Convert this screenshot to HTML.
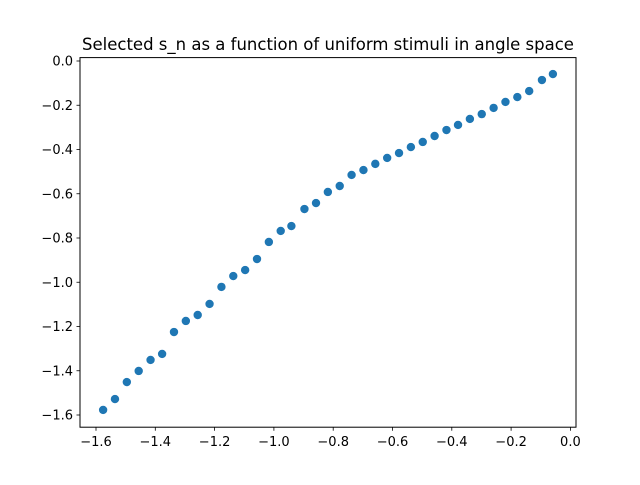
<!DOCTYPE html>
<html><head><meta charset="utf-8"><style>
body{margin:0;background:#fff}
svg text{font-family:"DejaVu Sans","Liberation Sans",sans-serif;fill:#000}
</style></head><body>
<svg id="chart" width="640" height="480" viewBox="0 0 640 480" xmlns="http://www.w3.org/2000/svg">
<rect width="640" height="480" fill="#fff"/>
<text x="328" y="50" font-size="16.5" text-anchor="middle">Selected s_n as a function of uniform stimuli in angle space</text>
<g id="ticks"></g>
<g id="points"></g>
<rect x="80" y="57.6" width="496" height="369.6" fill="none" stroke="#000" stroke-width="1"/>
</svg>
<script>
const xValues=[-1.576,-1.536,-1.496,-1.456,-1.416,-1.377,-1.337,-1.297,-1.257,-1.217,-1.177,-1.137,-1.097,-1.057,-1.017,-0.977,-0.941,-0.897,-0.858,-0.818,-0.778,-0.738,-0.698,-0.658,-0.618,-0.578,-0.538,-0.498,-0.458,-0.418,-0.379,-0.339,-0.299,-0.259,-0.219,-0.179,-0.139,-0.096,-0.059];
const yValues=[-1.577,-1.528,-1.451,-1.401,-1.351,-1.324,-1.225,-1.175,-1.148,-1.098,-1.021,-0.972,-0.945,-0.895,-0.818,-0.768,-0.746,-0.669,-0.642,-0.592,-0.565,-0.515,-0.493,-0.465,-0.438,-0.416,-0.389,-0.366,-0.339,-0.312,-0.289,-0.262,-0.240,-0.212,-0.185,-0.163,-0.136,-0.086,-0.059];
const xTicks=[-1.6,-1.4,-1.2,-1.0,-0.8,-0.6,-0.4,-0.2,0.0];
const yTicks=[0.0,-0.2,-0.4,-0.6,-0.8,-1.0,-1.2,-1.4,-1.6];
const NS="http://www.w3.org/2000/svg";
const sx=v=>96+(v+1.6)*296.5;
const sy=v=>61+(-v)*221.25;
const fmt=v=>(v<0?"\u2212":"")+Math.abs(v).toFixed(1);
const tg=document.getElementById('ticks');
function mk(tag,attrs,parent){const e=document.createElementNS(NS,tag);for(const k in attrs)e.setAttribute(k,attrs[k]);parent.appendChild(e);return e;}
xTicks.forEach(t=>{
  const x=sx(t);
  const l=mk('line',{x1:x,x2:x,y1:427.2,y2:430.7,stroke:'#000','stroke-width':0.8},tg);
  
  
  const tx=mk('text',{x:x,y:446,'font-size':13,'text-anchor':'middle'},tg);
  tx.textContent=fmt(t);
  
  
});
yTicks.forEach(t=>{
  const y=sy(t);
  const l=mk('line',{x1:76.5,x2:80,y1:y,y2:y,stroke:'#000','stroke-width':0.8},tg);
  
  
  const tx=mk('text',{x:73,y:y+4.7,'font-size':13,'text-anchor':'end'},tg);
  tx.textContent=fmt(t);
  
  
});
const pg=document.getElementById('points');
xValues.forEach((xv,i)=>{
  const c=mk('circle',{cx:sx(xv),cy:sy(yValues[i]),r:4.2,fill:'#1f77b4'},pg);
  
  
});
</script>
</body></html>
